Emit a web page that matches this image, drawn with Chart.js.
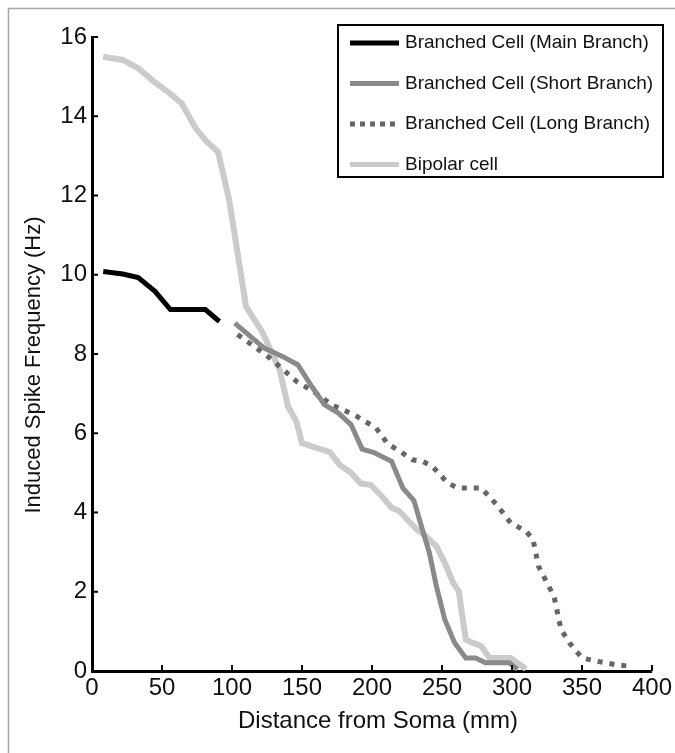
<!DOCTYPE html>
<html>
<head>
<meta charset="utf-8">
<script src="https://cdn.jsdelivr.net/npm/chart.js@4.4.0/dist/chart.umd.min.js"></script>
<style>
  html, body { margin: 0; padding: 0; background: #fff; }
</style>
</head>
<body>
<canvas id="graph" width="675" height="753"></canvas>
<script>
// values (distance in mm, frequency in Hz)
var mainX = [8, 22, 33, 45, 56, 81, 91];
var mainY = [10.08, 10.02, 9.93, 9.58, 9.12, 9.12, 8.82];

var shortX = [102, 123, 136, 147, 157, 166, 176, 185, 193, 201, 214, 222, 230, 236, 241, 246, 252, 259, 267, 274, 281, 298, 304];
var shortY = [8.78, 8.15, 7.94, 7.73, 7.18, 6.72, 6.51, 6.22, 5.6, 5.52, 5.29, 4.62, 4.3, 3.57, 2.98, 2.14, 1.3, 0.71, 0.33, 0.33, 0.21, 0.21, 0.04];

var longX = [104, 119, 127, 138, 146, 158, 172, 182, 189, 195, 203, 211, 221, 229, 236, 243, 254, 261, 278, 289, 299, 310, 315, 319, 325, 330, 335, 341, 350, 360, 374, 384];
var longY = [8.49, 8.11, 7.9, 7.56, 7.31, 7.06, 6.7, 6.55, 6.43, 6.3, 6.13, 5.74, 5.52, 5.33, 5.29, 5.17, 4.75, 4.62, 4.62, 4.2, 3.74, 3.53, 3.32, 2.64, 2.22, 1.89, 1.05, 0.71, 0.33, 0.25, 0.16, 0.12];

var bipolarX = [8, 22, 33, 44, 54, 64, 74, 82, 90, 98, 110, 122, 134, 140, 146, 150, 170, 177, 185, 192, 199, 206, 214, 219, 232, 237, 246, 252, 258, 262, 267, 272, 278, 284, 299, 310];
var bipolarY = [15.5, 15.42, 15.21, 14.88, 14.62, 14.33, 13.7, 13.36, 13.1, 11.89, 9.2, 8.53, 7.6, 6.68, 6.3, 5.75, 5.52, 5.2, 5.0, 4.73, 4.7, 4.45, 4.12, 4.05, 3.57, 3.44, 3.15, 2.73, 2.22, 2.01, 0.79, 0.71, 0.63, 0.33, 0.33, 0.05];

var seriesLabels = ['Branched Cell (Main Branch)', 'Branched Cell (Short Branch)', 'Branched Cell (Long Branch)', 'Bipolar cell'];
var xTicks = [0, 50, 100, 150, 200, 250, 300, 350, 400];
var yTicks = [0, 2, 4, 6, 8, 10, 12, 14, 16];
var xTitle = 'Distance from Soma (mm)';
var yTitle = 'Induced Spike Frequency (Hz)';

var FONT = "'Liberation Sans', Arial, sans-serif";

function pts(xs, ys) {
  return xs.map(function (x, i) { return { x: x, y: ys[i] }; });
}

var decorPlugin = {
  id: 'decor',
  beforeDraw: function (chart) {
    var ctx = chart.ctx;
    ctx.save();
    ctx.fillStyle = '#fff';
    ctx.fillRect(0, 0, chart.width, chart.height);
    // thin frame on top and left
    ctx.strokeStyle = '#a8a8a8';
    ctx.lineWidth = 1.5;
    ctx.beginPath();
    ctx.moveTo(8.5, chart.height);
    ctx.lineTo(8.5, 8.5);
    ctx.lineTo(chart.width, 8.5);
    ctx.stroke();
    ctx.restore();
  },
  afterDraw: function (chart) {
    var ctx = chart.ctx;
    var xs = chart.scales.x, ys = chart.scales.y;
    ctx.save();

    // tick marks pointing into the plot
    ctx.strokeStyle = '#000';
    ctx.lineWidth = 2;
    ctx.beginPath();
    xs.ticks.forEach(function (t) {
      var px = xs.getPixelForValue(t.value);
      ctx.moveTo(px, xs.top);
      ctx.lineTo(px, xs.top - 6);
    });
    ys.ticks.forEach(function (t) {
      var py = ys.getPixelForValue(t.value);
      ctx.moveTo(ys.right, py);
      ctx.lineTo(ys.right + 6, py);
    });
    ctx.stroke();

    // axis titles
    ctx.fillStyle = '#111';
    ctx.textAlign = 'center';
    ctx.textBaseline = 'middle';
    ctx.font = '24px ' + FONT;
    ctx.fillText(xTitle, 378, 721);
    ctx.save();
    ctx.translate(34, 365);
    ctx.rotate(-Math.PI / 2);
    ctx.font = '22px ' + FONT;
    ctx.fillText(yTitle, 0, 0);
    ctx.restore();

    // legend box
    var lx = 338, ly = 25, lw = 325, lh = 152;
    ctx.fillStyle = '#fff';
    ctx.fillRect(lx, ly, lw, lh);
    ctx.strokeStyle = '#000';
    ctx.lineWidth = 2;
    ctx.strokeRect(lx, ly, lw, lh);

    ctx.font = '19px ' + FONT;
    ctx.textBaseline = 'middle';
    ctx.textAlign = 'left';
    chart.data.datasets.forEach(function (ds, i) {
      var y = 43 + i * 40.5;
      ctx.strokeStyle = ds.borderColor;
      ctx.lineWidth = 5;
      ctx.lineCap = 'butt';
      ctx.setLineDash(ds.legendDash || []);
      ctx.beginPath();
      ctx.moveTo(350, y);
      ctx.lineTo(399, y);
      ctx.stroke();
      ctx.setLineDash([]);
      ctx.fillStyle = '#111';
      ctx.fillText(ds.label, 405, y);
    });
    ctx.restore();
  }
};

var ctx = document.getElementById('graph').getContext('2d');

new Chart(ctx, {
  type: 'line',
  data: {
    datasets: [{
      label: seriesLabels[0],
      data: pts(mainX, mainY),
      borderColor: '#000000',
      borderWidth: 5
    }, {
      label: seriesLabels[1],
      data: pts(shortX, shortY),
      borderColor: '#8a8a8a',
      borderWidth: 5
    }, {
      label: seriesLabels[2],
      data: pts(longX, longY),
      borderColor: '#666666',
      borderWidth: 5,
      borderDash: [5, 7],
      legendDash: [5, 5]
    }, {
      label: seriesLabels[3],
      data: pts(bipolarX, bipolarY),
      borderColor: '#cbcbcb',
      borderWidth: 6
    }]
  },
  options: {
    responsive: false,
    animation: false,
    devicePixelRatio: 1,
    layout: { padding: { top: 37, right: 22, left: 0, bottom: 0 } },
    elements: {
      point: { radius: 0 },
      line: { tension: 0, borderCapStyle: 'butt', borderJoinStyle: 'miter' }
    },
    plugins: {
      legend: { display: false },
      tooltip: { enabled: false }
    },
    scales: {
      x: {
        type: 'linear',
        min: 0,
        max: 400,
        afterBuildTicks: function (scale) {
          scale.ticks = xTicks.map(function (v) { return { value: v }; });
        },
        afterFit: function (scale) { scale.height = 82; },
        grid: { display: false, drawTicks: false },
        border: { display: true, color: '#000', width: 3 },
        ticks: {
          color: '#111',
          padding: 3,
          maxRotation: 0,
          font: { family: FONT, size: 24 }
        }
      },
      y: {
        type: 'linear',
        min: 0,
        max: 16,
        afterBuildTicks: function (scale) {
          scale.ticks = yTicks.map(function (v) { return { value: v }; });
        },
        afterFit: function (scale) { scale.width = 92; },
        grid: { display: false, drawTicks: false },
        border: { display: true, color: '#000', width: 3 },
        ticks: {
          color: '#111',
          padding: 5,
          font: { family: FONT, size: 24 }
        }
      }
    }
  },
  plugins: [decorPlugin]
});
</script>
</body>
</html>
